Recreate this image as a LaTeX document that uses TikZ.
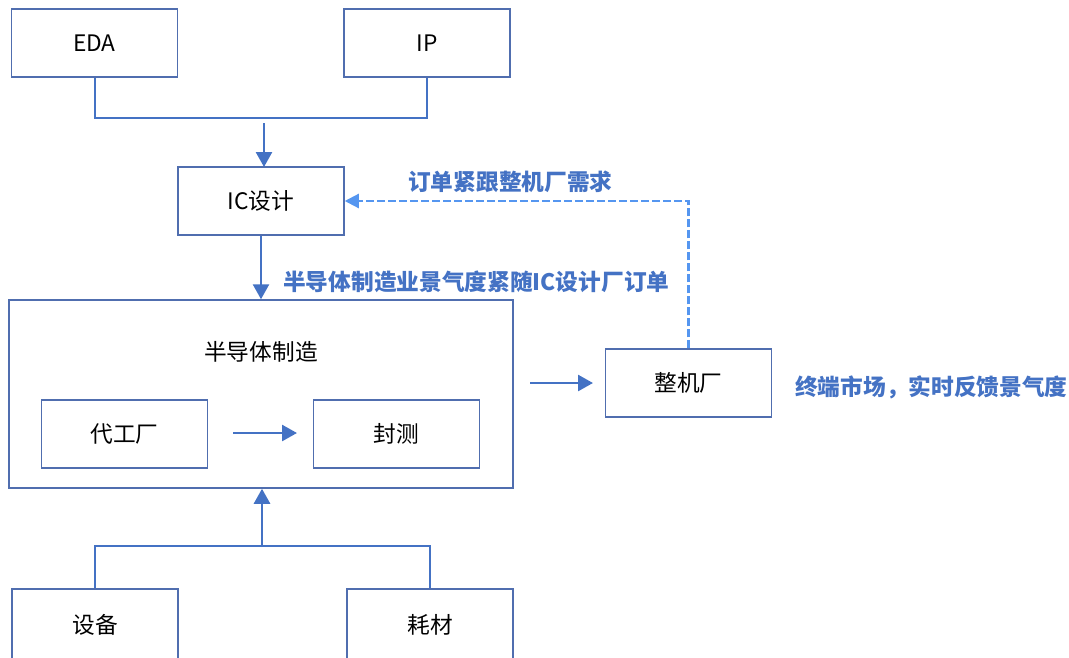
\documentclass[tikz,border=0pt]{standalone}
\usepackage{fontspec}
\setmainfont{Noto Sans CJK SC}
\usetikzlibrary{arrows.meta}
\definecolor{boxline}{RGB}{80,110,175}
\definecolor{arrblue}{RGB}{68,114,196}
\definecolor{dashblue}{RGB}{85,150,240}
\definecolor{lblblue}{RGB}{68,114,196}
\tikzset{
  box/.style={draw=boxline, line width=1.5pt, fill=white, minimum width=166pt, minimum height=68pt, inner sep=0pt, font=\fontsize{22.7}{27}\selectfont},
  conn/.style={draw=arrblue, line width=2pt},
  arr/.style={draw=arrblue, line width=2.6pt, -{Triangle[length=15pt,width=16pt]}},
  dasharr/.style={draw=dashblue, line width=2.2pt, dash pattern=on 8pt off 3pt, -{Triangle[length=14pt,width=14pt]}},
  lbl/.style={text=lblblue, font=\fontsize{22.7}{27}\selectfont\bfseries, inner sep=0pt, anchor=west},
  title/.style={font=\fontsize{22.7}{27}\selectfont, inner sep=0pt}
}
\begin{document}
\begin{tikzpicture}[x=1pt,y=-1pt]
\useasboundingbox[fill=white] (0,0) rectangle (1069,657);
% big container
\node[box, minimum width=504pt, minimum height=188pt] (big) at (261,394) {};
\node[title] (bigt) at (261,352) {半导体制造};
% boxes
\node[box] (eda) at (94.5,43) {EDA};
\node[box] (ip) at (427,43) {IP};
\node[box] (ic) at (261,201) {IC设计};
\node[box] (fab) at (124.5,434) {代工厂};
\node[box] (pkg) at (396.5,434) {封测};
\node[box] (zjc) at (688.5,383) {整机厂};
\node[box, minimum height=72pt] (sb) at (95,625) {设备};
\node[box, minimum height=72pt] (hc) at (430,625) {耗材};
% labels
\node[lbl] (l1) at (408,182) {订单紧跟整机厂需求};
\node[lbl] (l2) at (283,282) {半导体制造业景气度紧随IC设计厂订单};
\node[lbl] (l3) at (795,387) {终端市场，实时反馈景气度};
% coordinates
\coordinate (a1) at (264,123);
\coordinate (a1e) at (264,167);
\coordinate (a2s) at (530,383);
\coordinate (a2e) at (593,383);
\coordinate (a3s) at (233,433);
\coordinate (a3e) at (297,433);
\coordinate (b1) at (262,547);
% connectors
\draw[conn] (eda.south) -- ++(0,40) -| (ip.south);
\draw[arr] (a1) -- (a1e);
\draw[arr] (ic.south) -- (ic.south |- big.north);
\draw[arr] (a3s) -- (a3e);
\draw[arr] (a2s) -- (a2e);
\draw[dasharr] (zjc.north) |- (ic.east);
\draw[conn] (sb.north) -- ++(0,-42) -| (hc.north);
\draw[arr] (b1) -- (b1 |- big.south);
\end{tikzpicture}
\end{document}
